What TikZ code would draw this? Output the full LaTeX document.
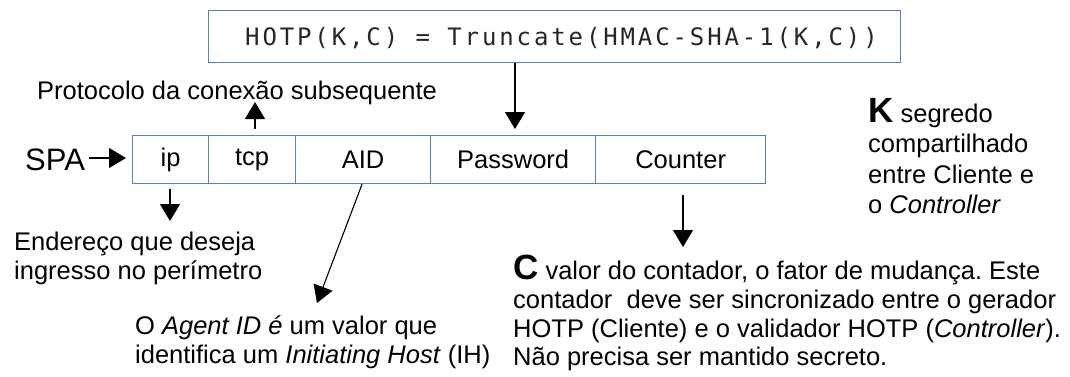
\documentclass[tikz,border=0pt]{standalone}
\usepackage{fontspec}
\setmainfont{Liberation Sans}
\newfontfamily\codefont[LetterSpace=12]{DejaVu Sans Mono}
\usetikzlibrary{arrows.meta}
\definecolor{fieldblue}{RGB}{85,128,190}
\newcommand{\bigletter}[1]{{\fontsize{35}{30}\selectfont\textbf{#1}}}
\frenchspacing
\tikzset{
  field/.style={draw=fieldblue, line width=1.3pt, minimum height=48pt, inner sep=0pt, font=\fontsize{25.5}{29}\selectfont, anchor=north west},
  note/.style={font=\fontsize{25.5}{28.7}\selectfont, align=left, inner sep=0pt},
  pointer/.style={line width=1.1pt, -{Triangle[width=20pt,length=17pt]}}
}
\begin{document}
\begin{tikzpicture}[x=1pt,y=-1pt]
\useasboundingbox (0,0) rectangle (1070,376);
% formula box and its text
\node[draw=fieldblue, line width=1.3pt, anchor=north west, minimum width=692pt, minimum height=52pt, inner sep=0pt] (hotp) at (208,10) {};
\node[anchor=base west, inner sep=0pt, font=\codefont\fontsize{24}{28}\selectfont, text=black!85] (formula) at (245,45) {HOTP(K,C) = Truncate(HMAC-SHA-1(K,C))};
% packet fields
\node[field, minimum width=76pt] (ip) at (132,135) {ip};
\node[field, minimum width=87pt] (tcp) at (208,135) {tcp};
\node[field, minimum width=135pt] (aid) at (295,135) {AID};
\node[field, minimum width=165pt] (pw) at (430,135) {Password};
\node[field, minimum width=170pt] (ctr) at (595,135) {Counter};
% labels
\node[font=\fontsize{31}{34}\selectfont, anchor=base west, inner sep=0pt] (spa) at (25,170) {SPA};
\node[note, anchor=base west] (proto) at (37,99) {Protocolo da conexão subsequente};
\node[note, anchor=north west] (ipnote) at (14,232) {Endereço que deseja\\ingresso no perímetro};
\node[note, anchor=north west] (aidnote) at (135,316) {O \textit{Agent ID é} um valor que\\identifica um \textit{Initiating Host} (IH)};
\node[note, anchor=north west] (cnote) at (513,255) {\bigletter{C} valor do contador, o fator de mudança. Este\\contador\ \ deve ser sincronizado entre o gerador\\HOTP (Cliente) e o validador HOTP (\textit{Controller}).\\Não precisa ser mantido secreto.};
\node[note, anchor=north west, font=\fontsize{25.5}{30.5}\selectfont] (knote) at (868,98) {\bigletter{K} segredo\\compartilhado\\entre Cliente e\\o \textit{Controller}};
% free ends of the pointers
\coordinate (spaend) at (89,158);
\coordinate (spatip) at (126,158);
\coordinate (pwtip) at (515,129);
\coordinate (protostart) at (255,129);
\coordinate (protoend) at (255,102);
\coordinate (iptip) at (170,221);
\coordinate (aidtip) at (317,303);
\coordinate (ctrstart) at (683,195);
\coordinate (ctrtip) at (683,247);
% pointers
\draw[pointer] (spaend) -- (spatip);
\draw[pointer] (hotp.south -| pwtip) -- (pwtip);
\draw[pointer] (protostart) -- (protoend);
\draw[pointer] (ip.south -| 170,0) ++(0,5) -- (iptip);
\draw[pointer] (aid.south -| 362,0) -- (aidtip);
\draw[pointer] (ctrstart) -- (ctrtip);
\end{tikzpicture}
\end{document}
